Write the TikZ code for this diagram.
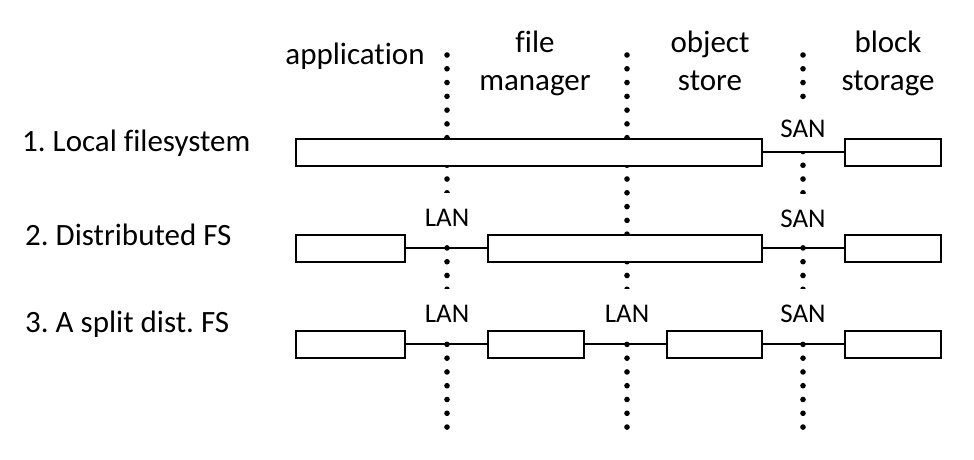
\documentclass[tikz,border=0pt]{standalone}
\usepackage{fontspec}
\setmainfont{Carlito}[Ligatures=CommonOff]
\frenchspacing
\begin{document}
\begin{tikzpicture}[x=1pt, y=-1pt,
        layer/.style={draw, line width=2pt, fill=white, minimum height=27pt, inner sep=0pt},
        net/.style={fill=white, inner sep=0pt, font=\fontsize{27}{32}\selectfont},
        big/.style={font=\fontsize{31}{38}\selectfont, inner sep=0pt},
        link/.style={line width=2pt}]
    \useasboundingbox (0, 0) rectangle (974, 460);
    % dotted boundaries
    \foreach \x in {447, 627, 803}
        \foreach \k in {0,...,27}
            \fill (\x, {55+\k*13.78}) circle (2.8pt);
    % headings
    \node[big, anchor=base] (app) at (355, 64) {application};
    \node[big, anchor=base, align=center] (fm) at (535, 90) {file\\manager};
    \node[big, anchor=base, align=center] (os) at (710, 90) {object\\store};
    \node[big, anchor=base, align=center] (bs) at (888, 90) {block\\storage};
    \node[big, anchor=base west] (r1) at (22, 151) {1. Local filesystem};
    \node[big, anchor=base west] (r2) at (25, 245) {2. Distributed FS};
    \node[big, anchor=base west] (r3) at (25, 332) {3. A split dist. FS};
    % row 1
    \node[layer, minimum width=466pt] (a1) at (529, 152) {};
    \node[layer, minimum width=96pt] (d1) at (893, 152) {};
    \node[net, minimum height=44pt] (san1) at (803, 128.5) {SAN};
    \draw[link] (a1) -- (d1);
    % row 2
    \node[layer, minimum width=109pt] (a2) at (350.5, 248) {};
    \node[layer, minimum width=274pt] (b2) at (625, 248) {};
    \node[layer, minimum width=96pt] (d2) at (893, 248) {};
    \node[net, minimum height=50pt] (lan2) at (447, 218) {LAN};
    \node[net, minimum height=50pt] (san2) at (803, 218.5) {SAN};
    \draw[link] (a2) -- (b2);
    \draw[link] (b2) -- (d2);
    % row 3
    \node[layer, minimum width=109pt] (a3) at (350.5, 344) {};
    \node[layer, minimum width=96pt] (b3) at (536, 344) {};
    \node[layer, minimum width=95pt] (c3) at (714.5, 344) {};
    \node[layer, minimum width=96pt] (d3) at (893, 344) {};
    \node[net, minimum height=50pt] (lan3a) at (447, 314) {LAN};
    \node[net, minimum height=50pt] (lan3b) at (627, 314) {LAN};
    \node[net, minimum height=50pt] (san3) at (803, 314) {SAN};
    \draw[link] (a3) -- (b3);
    \draw[link] (b3) -- (c3);
    \draw[link] (c3) -- (d3);
\end{tikzpicture}
\end{document}
